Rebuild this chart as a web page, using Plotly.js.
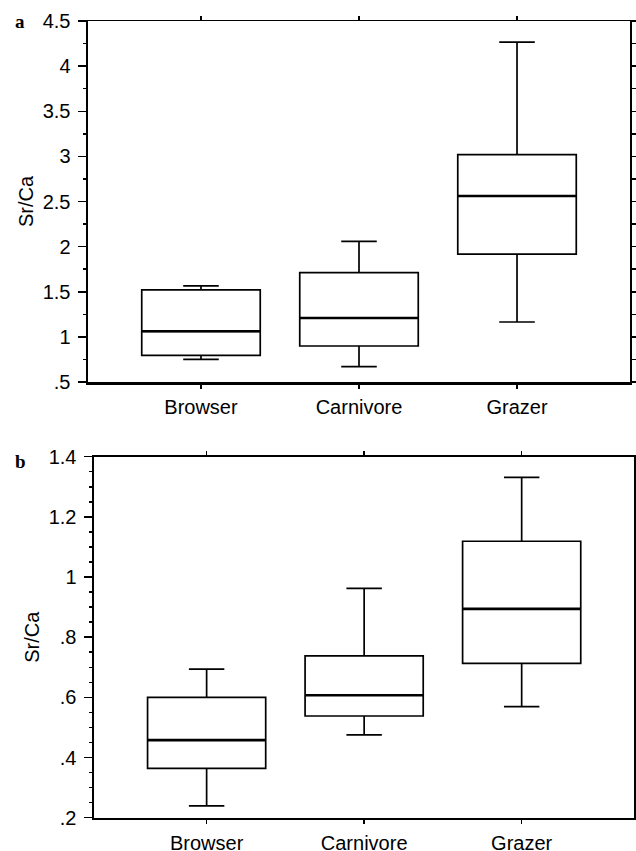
<!DOCTYPE html>
<html><head><meta charset="utf-8">
<script src="https://cdn.plot.ly/plotly-3.0.1.min.js"></script>
<style>html,body{margin:0;padding:0;background:#fff}#c{width:636px;height:851px}</style>
</head><body><div id="c"></div>
<script>
const categories = ["Browser", "Carnivore", "Grazer"];
// Panel a
const aLower  = [0.751, 0.670, 1.165];
const aQ1     = [0.796, 0.899, 1.918];
const aMedian = [1.062, 1.209, 2.561];
const aQ3     = [1.520, 1.711, 3.019];
const aUpper  = [1.564, 2.059, 4.267];
const aTickVals = [0.5, 1, 1.5, 2, 2.5, 3, 3.5, 4, 4.5];
const aTickText = [".5", "1", "1.5", "2", "2.5", "3", "3.5", "4", "4.5"];
// Panel b
const bLower  = [0.239, 0.475, 0.569];
const bQ1     = [0.364, 0.538, 0.713];
const bMedian = [0.458, 0.607, 0.894];
const bQ3     = [0.600, 0.738, 1.119];
const bUpper  = [0.694, 0.962, 1.331];
const bTickVals = [0.2, 0.4, 0.6, 0.8, 1.0, 1.2, 1.4];
const bTickText = [".2", ".4", ".6", ".8", "1", "1.2", "1.4"];

const W = 636, H = 851;
const FONT = "Liberation Sans, Arial, Helvetica, sans-serif";
const BOXW = 0.75;
const boxLine = {color: "#000", width: 1.7};

function boxTrace(q1, med, q3, lo, hi, xa, ya) {
  return {type: "box", x: categories, q1: q1, median: med, q3: q3,
    lowerfence: lo, upperfence: hi, xaxis: xa, yaxis: ya, width: BOXW,
    fillcolor: "rgba(0,0,0,0)", line: boxLine, whiskerwidth: 0.3,
    boxpoints: false, hoverinfo: "skip", showlegend: false};
}
function ghost(q1, med, q3, lo, hi, xa, ya) {
  const t = boxTrace(q1, med, q3, lo, hi, xa, ya);
  t.opacity = 0; return t;
}

const data = [
  boxTrace(aQ1, aMedian, aQ3, aLower, aUpper, "x", "y"),
  ghost(aQ1, aMedian, aQ3, aLower, aUpper, "x3", "y3"),
  boxTrace(bQ1, bMedian, bQ3, bLower, bUpper, "x2", "y2"),
  ghost(bQ1, bMedian, bQ3, bLower, bUpper, "x4", "y4")
];

const aDomX = [88 / W, 630 / W], aDomY = [1 - 382 / H, 1 - 21 / H];
const bDomX = [94 / W, 634.3 / W], bDomY = [1 - 817.7 / H, 1 - 456.7 / H];
const xr = [-0.715, 2.715];
const aR = [0.5, 4.5], bR = [0.2, 1.4];

function catAxis(dom, anchor, side, extra) {
  return Object.assign({domain: dom, anchor: anchor, side: side, type: "category",
    categoryorder: "array", categoryarray: categories, range: xr,
    showgrid: false, zeroline: false, showline: true, linecolor: "#000",
    ticks: "outside", ticklen: 4, tickwidth: 1.5, tickcolor: "#000",
    tickfont: {family: FONT, size: 20, color: "#000"}, fixedrange: true}, extra);
}
function valAxis(dom, anchor, range, tv, tt, minorStep) {
  return {domain: dom, anchor: anchor, side: "left", range: range,
    showgrid: false, zeroline: false, showline: true, linecolor: "#000", linewidth: 2.5,
    tickmode: "array", tickvals: tv, ticktext: tt,
    ticks: "outside", ticklen: 8, tickwidth: 1.5, tickcolor: "#000",
    minor: {tickmode: "linear", tick0: range[0], dtick: minorStep, ticks: "outside",
      ticklen: 3, tickwidth: 1.5, tickcolor: "#000", showgrid: false},
    tickfont: {family: FONT, size: 20, color: "#000"}, ticklabelstandoff: 3,
    title: {text: "Sr/Ca", font: {family: FONT, size: 20, color: "#000"}, standoff: 4},
    fixedrange: true};
}
function rightAxis(over, anchor, range, step) {
  return {overlaying: over, anchor: anchor, side: "right", range: range,
    showgrid: false, zeroline: false, showline: true, linecolor: "#000", linewidth: 2,
    tickmode: "linear", tick0: range[0], dtick: step, ticks: "outside", ticklen: 4,
    tickwidth: 1.5, tickcolor: "#000", showticklabels: false, fixedrange: true};
}

const shapes = [];
function medianShapes(med, xref, yref) {
  med.forEach((m, i) => shapes.push({type: "line", xref: xref, yref: yref,
    x0: i - BOXW / 2, x1: i + BOXW / 2, y0: m, y1: m, line: {color: "#000", width: 2.6}}));
}
medianShapes(aMedian, "x", "y");
medianShapes(bMedian, "x2", "y2");

const layout = {
  width: W, height: H, margin: {l: 0, r: 0, t: 0, b: 0},
  paper_bgcolor: "#fff", plot_bgcolor: "#fff", showlegend: false,
  xaxis: catAxis(aDomX, "y", "bottom", {linewidth: 2.5, ticklabelstandoff: 1}),
  yaxis: valAxis(aDomY, "x", aR, aTickVals, aTickText, 0.25),
  xaxis3: catAxis(aDomX, "y3", "top", {overlaying: "x", linewidth: 1.5, showticklabels: false}),
  yaxis3: rightAxis("y", "x3", aR, 0.25),
  xaxis2: catAxis(bDomX, "y2", "bottom", {linewidth: 2.5, ticklabelstandoff: 2}),
  yaxis2: valAxis(bDomY, "x2", bR, bTickVals, bTickText, 0.05),
  xaxis4: catAxis(bDomX, "y4", "top", {overlaying: "x2", linewidth: 1.5, showticklabels: false}),
  yaxis4: rightAxis("y2", "x4", bR, 0.05),
  shapes: shapes,
  annotations: [
    {text: "<b>a</b>", xref: "paper", yref: "paper", x: 13 / W, y: 1 - 21 / H,
     xanchor: "left", yanchor: "middle", showarrow: false,
     font: {family: "Liberation Serif, Times New Roman, serif", size: 19, color: "#000"}},
    {text: "<b>b</b>", xref: "paper", yref: "paper", x: 13 / W, y: 1 - 461 / H,
     xanchor: "left", yanchor: "middle", showarrow: false,
     font: {family: "Liberation Serif, Times New Roman, serif", size: 19, color: "#000"}}
  ]
};

Plotly.newPlot("c", data, layout, {displayModeBar: false, staticPlot: true});
</script>
</body></html>
